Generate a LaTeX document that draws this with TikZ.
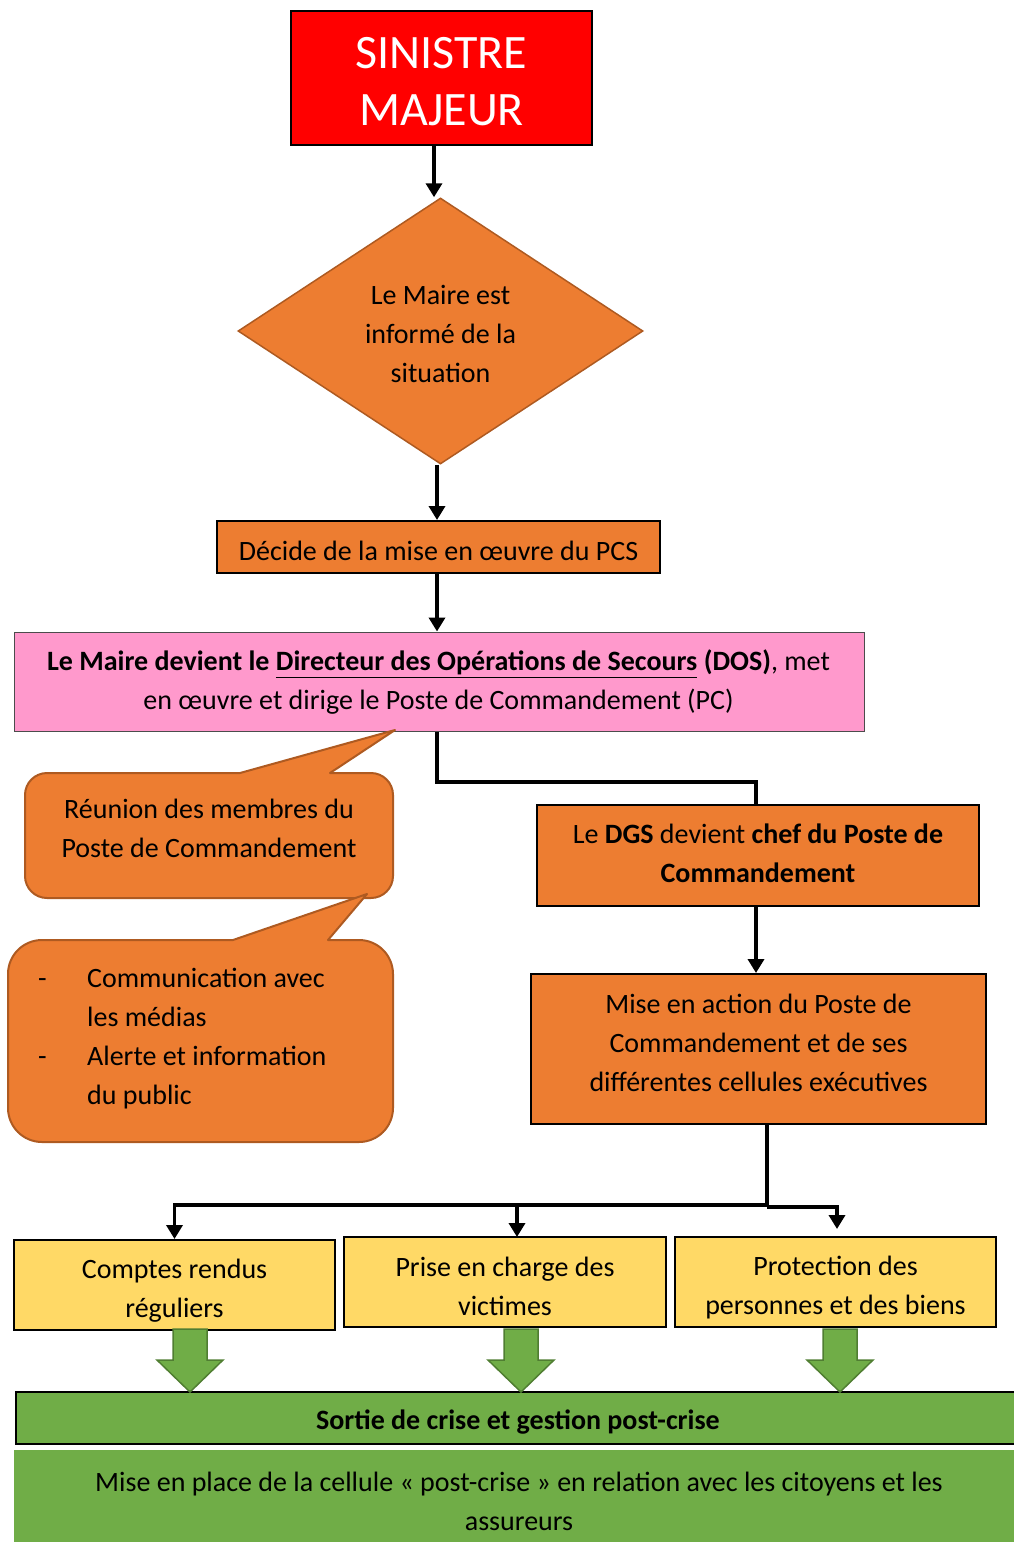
\documentclass[tikz,border=0pt]{standalone}
\usepackage{fontspec}
\setmainfont{Carlito}
\usetikzlibrary{shapes.geometric,arrows.meta,calc}
\definecolor{orangeF}{HTML}{ED7D31}
\definecolor{orangeD}{HTML}{AE5A21}
\definecolor{pinkF}{HTML}{FF99CC}
\definecolor{yellowF}{HTML}{FFD966}
\definecolor{greenF}{HTML}{70AD47}
\definecolor{greenD}{HTML}{507E32}
\definecolor{redF}{HTML}{FF0000}
\tikzset{
  txt/.style={font=\fontsize{28}{39}\selectfont, align=center, inner sep=0pt},
  box/.style={draw=black, line width=2pt, inner sep=0pt},
  obox/.style={box, fill=orangeF},
  ybox/.style={box, fill=yellowF},
  flow/.style={line width=3.5pt, -{Triangle[width=16pt,length=14pt]}},
  link/.style={line width=3.5pt},
  callout/.style={fill=orangeF, draw=orangeD, line width=2pt, line join=round},
  bigarrow/.style={fill=greenF, draw=greenD, line width=1.5pt},
}
\begin{document}
\begin{tikzpicture}[x=1pt,y=-1pt]
\useasboundingbox (0,0) rectangle (1013,1542);

% main chain: boxes
\node[box, fill=redF, minimum width=301pt, minimum height=134pt] (sin) at (441.5,78) {};
\node[diamond, fill=orangeF, draw=orangeD, line width=1.5pt, inner sep=0pt,
      minimum width=405pt, minimum height=266pt] (maire) at (440.5,331) {};
\node[obox, minimum width=443pt, minimum height=52pt] (pcs) at (438.5,547) {};
\node[fill=pinkF, draw=black!70, line width=1pt, inner sep=0pt,
      minimum width=850pt, minimum height=99pt] (dos) at (439,681.5) {};
\node[obox, minimum width=442pt, minimum height=101pt] (dgs) at (758,855.5) {};
\node[obox, minimum width=455pt, minimum height=150pt] (action) at (758.5,1049) {};

% three branches
\node[ybox, minimum width=321pt, minimum height=90pt] (cr) at (174.5,1285) {};
\node[ybox, minimum width=322pt, minimum height=90pt] (pec) at (505,1282) {};
\node[ybox, minimum width=321pt, minimum height=90pt] (prot) at (835.5,1282) {};

% exit of the crisis
\node[box, fill=greenF, minimum width=1004pt, minimum height=52pt] (sortie) at (518,1418) {};
\node[fill=greenF, inner sep=0pt, minimum width=1010pt, minimum height=94pt] (post) at (519,1497) {};

% speech bubbles: rounded rectangles with a straight pointed tail
\draw[callout] (240,773) -- (395,730) -- (330,773) -- (371,773)
      arc[start angle=-90, end angle=0, radius=22] -- (393,876)
      arc[start angle=0, end angle=90, radius=22] -- (47,898)
      arc[start angle=90, end angle=180, radius=22] -- (25,795)
      arc[start angle=180, end angle=270, radius=22] -- cycle;
\draw[callout] (233,940) -- (367,894) -- (328,940) -- (359,940)
      arc[start angle=-90, end angle=0, radius=34] -- (393,1108)
      arc[start angle=0, end angle=90, radius=34] -- (42,1142)
      arc[start angle=90, end angle=180, radius=34] -- (8,974)
      arc[start angle=180, end angle=270, radius=34] -- cycle;

% texts
\node[txt, text=white, font=\fontsize{48}{57}\selectfont] (sin-t) at (441.5,81.5) {SINISTRE\\MAJEUR};
\node[txt] (maire-t) at (440.5,333.5) {Le Maire est\\informé de la\\situation};
\node[txt] (pcs-t) at (438.5,551) {Décide de la mise en œuvre du PCS};
\node[txt] (dos-t) at (438.5,682.5)
      {\textbf{Le Maire devient le \underline{Directeur des Opérations de Secours} (DOS)}, met\\
       en œuvre et dirige le Poste de Commandement (PC)};
\node[txt] (dgs-t) at (758,853.5) {Le \textbf{DGS} devient \textbf{chef du Poste de}\\\textbf{Commandement}};
\node[txt] (action-t) at (758.5,1042.5) {Mise en action du Poste de\\Commandement et de ses\\différentes cellules exécutives};
\node[txt] (cr-t) at (174.5,1291) {Comptes rendus\\réguliers};
\node[txt] (pec-t) at (505,1286) {Prise en charge des\\victimes};
\node[txt] (prot-t) at (835.5,1288) {Protection des\\personnes et des biens};
\node[txt] (sortie-t) at (518,1422) {\textbf{Sortie de crise et gestion post-crise}};
\node[txt] (post-t) at (519,1501) {Mise en place de la cellule « post-crise » en relation avec les citoyens et les\\assureurs};
\node[txt] (reunion) at (209,828.5) {Réunion des membres du\\Poste de Commandement};
\node[txt, anchor=west] (comm) at (38,1038)
      {\begin{tabular}{@{}p{49pt}@{}l@{}}
       - & Communication avec\\
         & les médias\\
       - & Alerte et information\\
         & du public
       \end{tabular}};

% connectors
\coordinate (c1) at (434,0);
\coordinate (c2) at (437,0);
\coordinate (c3) at (756,0);
\coordinate (j1) at (437,782);
\coordinate (hub) at (767,1205);
\coordinate (hubr) at (767,1207);
\coordinate (pecin) at (517,1237);
\coordinate (protin) at (837,1229);

\draw[flow] (c1 |- sin.south) -- (c1 |- maire.north);
\draw[flow] (c2 |- maire.south) -- (c2 |- pcs.north);
\draw[flow] (c2 |- pcs.south) -- (c2 |- dos.north);
\draw[link] (c2 |- dos.south) -- (j1) -| (c3 |- dgs.north);
\draw[flow] (c3 |- dgs.south) -- (c3 |- action.north);
\draw[link] (action.south -| hub) -- (hub);
\draw[flow] (hub) -| (cr.north);
\draw[flow] (hub) -| (pecin);
\draw[flow] (hubr) -| (protin);

% green block arrows
\foreach \cx in {190, 521, 840}{
  \draw[bigarrow] (\cx-17,1329) -- (\cx+17,1329) -- (\cx+17,1360) -- (\cx+33,1360)
        -- (\cx,1392) -- (\cx-33,1360) -- (\cx-17,1360) -- cycle;
}
\end{tikzpicture}
\end{document}
